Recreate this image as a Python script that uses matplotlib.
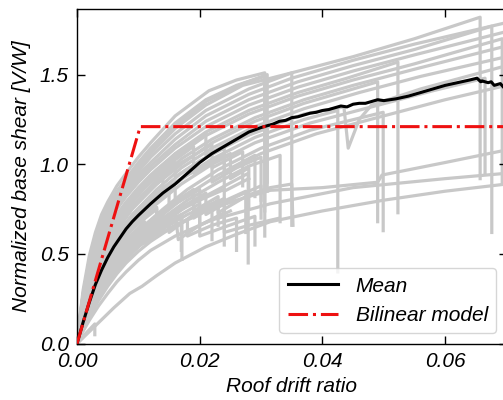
import matplotlib
matplotlib.use("Agg")
import matplotlib.pyplot as plt

plt.rcParams['font.family'] = ['Liberation Sans', 'DejaVu Sans']
plt.rcParams['font.style'] = 'italic'

# ---------------- data ----------------
x_ticks = [0.00, 0.02, 0.04, 0.06]
x_tick_labels = ["0.00", "0.02", "0.04", "0.06"]
y_ticks = [0.0, 0.5, 1.0, 1.5]
y_tick_labels = ["0.0", "0.5", "1.0", "1.5"]

# individual pushover curves (roof drift ratio, normalized base shear)
curves = [
    [(0,0),(0.0005,0.16),(0.001,0.30),(0.002,0.49),(0.003,0.62),(0.004,0.72),(0.005,0.79),(0.0065,0.88),(0.008,0.95),(0.01,1.04),(0.012,1.12),(0.016,1.27),(0.0215,1.41),(0.026,1.47),(0.0306,1.51),(0.0306,0.74)],
    [(0,0),(0.0005,0.15),(0.001,0.28),(0.002,0.46),(0.003,0.59),(0.004,0.69),(0.005,0.76),(0.0065,0.85),(0.008,0.92),(0.01,1.01),(0.012,1.09),(0.016,1.23),(0.021,1.36),(0.026,1.44),(0.0306,1.49),(0.0306,0.60)],
    [(0,0),(0.0005,0.145),(0.001,0.27),(0.002,0.44),(0.003,0.57),(0.004,0.67),(0.005,0.74),(0.0065,0.83),(0.008,0.90),(0.01,0.98),(0.012,1.06),(0.016,1.20),(0.021,1.33),(0.027,1.44),(0.035,1.51),(0.035,0.66)],
    [(0,0),(0.0005,0.14),(0.001,0.26),(0.002,0.43),(0.003,0.55),(0.004,0.65),(0.005,0.72),(0.0065,0.81),(0.008,0.88),(0.01,0.96),(0.012,1.04),(0.016,1.17),(0.021,1.30),(0.028,1.42),(0.035,1.51),(0.045,1.60),(0.055,1.70),(0.0657,1.82),(0.0657,0.92)],
    [(0,0),(0.0005,0.135),(0.001,0.25),(0.002,0.41),(0.003,0.53),(0.004,0.63),(0.005,0.70),(0.0065,0.79),(0.008,0.86),(0.01,0.94),(0.012,1.01),(0.016,1.14),(0.021,1.27),(0.028,1.39),(0.035,1.48),(0.045,1.58),(0.055,1.67),(0.07,1.79)],
    [(0,0),(0.0005,0.13),(0.001,0.24),(0.002,0.40),(0.003,0.52),(0.004,0.61),(0.005,0.68),(0.0065,0.77),(0.008,0.84),(0.01,0.92),(0.012,0.99),(0.016,1.11),(0.021,1.24),(0.028,1.36),(0.036,1.46),(0.045,1.55),(0.055,1.64),(0.0676,1.77),(0.0676,0.62)],
    [(0,0),(0.0005,0.125),(0.001,0.23),(0.002,0.38),(0.003,0.50),(0.004,0.59),(0.005,0.66),(0.0065,0.75),(0.008,0.82),(0.01,0.90),(0.012,0.97),(0.016,1.09),(0.021,1.21),(0.028,1.33),(0.036,1.43),(0.045,1.52),(0.055,1.61),(0.07,1.74)],
    [(0,0),(0.0005,0.12),(0.001,0.22),(0.002,0.36),(0.003,0.47),(0.004,0.56),(0.005,0.63),(0.0065,0.72),(0.008,0.79),(0.01,0.87),(0.012,0.94),(0.016,1.06),(0.021,1.18),(0.028,1.30),(0.036,1.40),(0.044,1.48),(0.0523,1.57),(0.0523,0.73)],
    [(0,0),(0.0005,0.115),(0.001,0.21),(0.002,0.35),(0.003,0.45),(0.004,0.54),(0.005,0.61),(0.0065,0.70),(0.008,0.77),(0.01,0.85),(0.012,0.92),(0.016,1.04),(0.021,1.16),(0.028,1.28),(0.036,1.38),(0.045,1.47),(0.055,1.56),(0.0693,1.70),(0.0693,0.89)],
    [(0,0),(0.0006,0.12),(0.0012,0.22),(0.002,0.32),(0.003,0.42),(0.0045,0.53),(0.006,0.62),(0.0075,0.70),(0.009,0.77),(0.011,0.84),(0.013,0.91),(0.017,1.03),(0.022,1.14),(0.029,1.26),(0.037,1.36),(0.045,1.44),(0.055,1.53),(0.07,1.66)],
    [(0,0),(0.0006,0.115),(0.0012,0.21),(0.002,0.305),(0.003,0.40),(0.0045,0.51),(0.006,0.60),(0.0075,0.68),(0.009,0.75),(0.011,0.82),(0.013,0.89),(0.017,1.00),(0.022,1.12),(0.029,1.24),(0.037,1.34),(0.049,1.46),(0.049,0.68)],
    [(0,0),(0.0006,0.11),(0.0012,0.20),(0.002,0.29),(0.003,0.38),(0.0045,0.49),(0.006,0.58),(0.0075,0.655),(0.009,0.72),(0.011,0.79),(0.013,0.86),(0.017,0.98),(0.022,1.09),(0.029,1.21),(0.037,1.31),(0.046,1.40),(0.056,1.49),(0.07,1.60)],
    [(0,0),(0.0006,0.105),(0.0012,0.19),(0.002,0.275),(0.003,0.36),(0.0045,0.46),(0.006,0.55),(0.0075,0.63),(0.009,0.70),(0.011,0.77),(0.013,0.84),(0.017,0.95),(0.022,1.06),(0.029,1.18),(0.037,1.28),(0.0435,1.32),(0.0442,1.09),(0.046,1.25),(0.048,1.33),(0.056,1.42),(0.07,1.55)],
    [(0,0),(0.0006,0.10),(0.0012,0.18),(0.002,0.265),(0.003,0.35),(0.0045,0.445),(0.006,0.53),(0.0075,0.605),(0.009,0.67),(0.011,0.74),(0.013,0.81),(0.017,0.92),(0.022,1.03),(0.029,1.15),(0.037,1.25),(0.0425,1.30),(0.0425,0.40)],
    [(0,0),(0.0006,0.095),(0.0012,0.17),(0.002,0.25),(0.003,0.33),(0.0045,0.425),(0.006,0.51),(0.0075,0.585),(0.009,0.65),(0.011,0.72),(0.013,0.78),(0.017,0.89),(0.022,1.00),(0.029,1.12),(0.038,1.23),(0.048,1.32),(0.058,1.41),(0.0665,1.48),(0.0665,0.95)],
    [(0,0),(0.0008,0.10),(0.0015,0.18),(0.0025,0.265),(0.0035,0.34),(0.005,0.43),(0.0065,0.50),(0.008,0.565),(0.01,0.63),(0.012,0.69),(0.014,0.75),(0.018,0.86),(0.023,0.97),(0.03,1.09),(0.038,1.19),(0.0499,1.29),(0.0499,0.63)],
    [(0,0),(0.0008,0.095),(0.0015,0.17),(0.0025,0.25),(0.0035,0.32),(0.005,0.41),(0.0065,0.48),(0.008,0.545),(0.01,0.61),(0.012,0.665),(0.014,0.72),(0.018,0.83),(0.023,0.94),(0.03,1.06),(0.039,1.17),(0.05,1.27),(0.06,1.36),(0.07,1.44)],
    [(0,0),(0.0008,0.09),(0.0015,0.16),(0.0025,0.24),(0.0035,0.31),(0.005,0.39),(0.0065,0.46),(0.008,0.52),(0.01,0.58),(0.012,0.64),(0.014,0.70),(0.018,0.80),(0.023,0.90),(0.028,0.99),(0.0331,1.05),(0.0331,0.68)],
    [(0,0),(0.0008,0.085),(0.0015,0.15),(0.0025,0.225),(0.0035,0.29),(0.005,0.37),(0.0065,0.44),(0.008,0.50),(0.01,0.56),(0.012,0.615),(0.014,0.67),(0.018,0.77),(0.023,0.86),(0.0279,0.95),(0.0279,0.45)],
    [(0,0),(0.0008,0.08),(0.0015,0.14),(0.0025,0.21),(0.0035,0.27),(0.005,0.35),(0.0065,0.42),(0.008,0.48),(0.01,0.54),(0.012,0.59),(0.014,0.64),(0.0171,0.71),(0.0171,0.47)],
    [(0,0),(0.001,0.09),(0.002,0.16),(0.0035,0.26),(0.005,0.34),(0.0065,0.41),(0.008,0.47),(0.01,0.54),(0.012,0.60),(0.015,0.68),(0.015,0.62),(0.019,0.72),(0.023,0.80),(0.023,0.73),(0.028,0.83),(0.0315,0.87),(0.035,0.89),(0.0352,0.66)],
    [(0,0),(0.001,0.085),(0.002,0.15),(0.0035,0.24),(0.005,0.32),(0.0065,0.39),(0.008,0.45),(0.01,0.515),(0.012,0.57),(0.016,0.66),(0.021,0.74),(0.026,0.80),(0.0315,0.855),(0.04,0.87),(0.049,0.90),(0.0497,0.94),(0.06,1.01),(0.07,1.08)],
    [(0,0),(0.001,0.07),(0.002,0.13),(0.0035,0.21),(0.005,0.28),(0.0065,0.345),(0.008,0.40),(0.01,0.465),(0.012,0.52),(0.016,0.60),(0.022,0.69),(0.0315,0.78),(0.045,0.87),(0.06,0.92),(0.07,0.95)],
    [(0,0),(0.0015,0.05),(0.003,0.10),(0.0045,0.15),(0.006,0.20),(0.0086,0.28),(0.0106,0.32),(0.013,0.38),(0.016,0.45),(0.021,0.54),(0.026,0.61),(0.0315,0.68),(0.04,0.74),(0.05,0.80),(0.06,0.85),(0.07,0.89)],
    [(0,0),(0.001,0.095),(0.002,0.17),(0.0035,0.28),(0.005,0.36),(0.0065,0.44),(0.008,0.50),(0.01,0.57),(0.012,0.63),(0.016,0.73),(0.02,0.80),(0.024,0.86),(0.024,0.62),(0.028,0.66),(0.033,0.70)],
    [(0,0),(0.0009,0.10),(0.0018,0.18),(0.003,0.29),(0.0045,0.38),(0.006,0.46),(0.008,0.55),(0.01,0.62),(0.012,0.68),(0.012,0.60),(0.016,0.70),(0.02,0.78),(0.02,0.66),(0.025,0.74)],
    [(0,0),(0.0009,0.11),(0.0018,0.20),(0.003,0.31),(0.0045,0.41),(0.006,0.49),(0.008,0.58),(0.011,0.68),(0.011,0.56),(0.014,0.64),(0.018,0.72),(0.022,0.78),(0.022,0.58)],
    [(0,0),(0.0008,0.11),(0.0015,0.20),(0.0025,0.31),(0.004,0.42),(0.0055,0.50),(0.007,0.57),(0.01,0.67),(0.013,0.75),(0.013,0.66),(0.017,0.76),(0.021,0.84),(0.021,0.72),(0.026,0.82),(0.03,0.88),(0.03,0.70)],
    [(0,0),(0.0009,0.105),(0.0018,0.19),(0.003,0.29),(0.0045,0.39),(0.006,0.47),(0.0075,0.54),(0.011,0.66),(0.015,0.76),(0.019,0.84),(0.019,0.70),(0.023,0.78),(0.0275,0.85),(0.0275,0.62)],
    [(0,0),(0.001,0.10),(0.002,0.18),(0.0035,0.29),(0.005,0.37),(0.0065,0.45),(0.008,0.51),(0.01,0.58),(0.012,0.64),(0.016,0.74),(0.0165,0.58),(0.02,0.66),(0.024,0.73),(0.024,0.55)],
    [(0,0),(0.0015,0.06),(0.0029,0.11),(0.0029,0.05)],
    [(0,0),(0.0008,0.13),(0.0015,0.24),(0.0025,0.36),(0.004,0.50),(0.0055,0.60),(0.007,0.68),(0.01,0.80),(0.014,0.92),(0.014,0.84),(0.018,0.94),(0.022,1.02),(0.022,0.90),(0.026,0.98),(0.03,1.04),(0.03,0.80)],
    [(0,0),(0.0008,0.14),(0.0015,0.26),(0.0025,0.39),(0.004,0.53),(0.0055,0.64),(0.007,0.72),(0.009,0.81),(0.011,0.88),(0.015,1.00),(0.019,1.10),(0.019,0.95),(0.024,1.05),(0.024,0.85),(0.028,0.92)],
    [(0,0),(0.001,0.12),(0.002,0.22),(0.0035,0.35),(0.005,0.45),(0.007,0.56),(0.009,0.64),(0.013,0.76),(0.013,0.64),(0.017,0.72),(0.017,0.52)],
    [(0,0),(0.0008,0.12),(0.0015,0.22),(0.0025,0.33),(0.004,0.46),(0.006,0.57),(0.008,0.66),(0.012,0.80),(0.016,0.90),(0.02,0.98),(0.025,1.06),(0.025,0.92),(0.028,0.98),(0.028,0.75)],
    [(0,0),(0.001,0.11),(0.002,0.20),(0.0035,0.31),(0.005,0.40),(0.007,0.50),(0.009,0.58),(0.011,0.64),(0.014,0.71),(0.014,0.62),(0.018,0.69),(0.018,0.60),(0.022,0.66),(0.026,0.70),(0.026,0.52)],
    [(0,0),(0.001,0.13),(0.002,0.24),(0.0035,0.37),(0.005,0.47),(0.007,0.58),(0.009,0.67),(0.012,0.77),(0.016,0.87),(0.016,0.78),(0.02,0.86),(0.02,0.74),(0.024,0.81),(0.024,0.68)],
    [(0,0),(0.0006,0.13),(0.0012,0.24),(0.002,0.35),(0.003,0.46),(0.0045,0.58),(0.006,0.67),(0.0075,0.75),(0.009,0.82),(0.011,0.90),(0.013,0.97),(0.017,1.08),(0.021,1.17),(0.021,1.05),(0.026,1.14),(0.031,1.20),(0.031,0.90)],
    [(0,0),(0.0006,0.125),(0.0012,0.23),(0.002,0.335),(0.003,0.44),(0.0045,0.555),(0.006,0.645),(0.0075,0.72),(0.009,0.79),(0.011,0.865),(0.013,0.93),(0.016,1.01),(0.016,0.93),(0.02,1.02),(0.024,1.09),(0.024,0.96),(0.029,1.05),(0.029,0.82)],
    [(0,0),(0.0008,0.12),(0.0015,0.21),(0.0025,0.31),(0.004,0.43),(0.0055,0.52),(0.007,0.60),(0.009,0.69),(0.012,0.79),(0.015,0.87),(0.015,0.77),(0.019,0.86),(0.019,0.74),(0.023,0.82),(0.023,0.66)],
    [(0,0),(0.0005,0.15),(0.001,0.275),(0.002,0.45),(0.003,0.58),(0.004,0.68),(0.005,0.75),(0.0065,0.84),(0.008,0.91),(0.01,0.99),(0.012,1.07),(0.016,1.21),(0.021,1.35),(0.027,1.45),(0.031,1.50),(0.031,0.85)],
    [(0,0),(0.0009,0.10),(0.0018,0.185),(0.003,0.28),(0.0045,0.37),(0.006,0.45),(0.008,0.53),(0.01,0.60),(0.013,0.68),(0.013,0.60),(0.016,0.66),(0.02,0.72),(0.02,0.60),(0.024,0.65),(0.029,0.71),(0.029,0.55)],
    [(0,0),(0.0006,0.12),(0.0012,0.215),(0.002,0.31),(0.003,0.41),(0.0045,0.52),(0.006,0.61),(0.0075,0.69),(0.009,0.76),(0.011,0.83),(0.013,0.90),(0.017,1.01),(0.022,1.11),(0.022,0.98),(0.027,1.07),(0.027,0.88)],
]

mean_x = [0, 0.001, 0.002, 0.003, 0.004, 0.005, 0.006, 0.007, 0.008, 0.009, 0.010,
          0.012, 0.014, 0.016, 0.018, 0.020, 0.022, 0.024, 0.026, 0.028, 0.030,
          0.031, 0.032, 0.033, 0.034, 0.035, 0.036, 0.037, 0.038, 0.039, 0.040,
          0.041, 0.042, 0.043, 0.044, 0.045, 0.046, 0.047, 0.048, 0.049, 0.050,
          0.051, 0.052, 0.054, 0.056, 0.058, 0.060, 0.062, 0.064, 0.0652, 0.0658,
          0.066, 0.067, 0.0675, 0.068, 0.069, 0.0695, 0.070]
mean_y = [0, 0.12, 0.23, 0.33, 0.41, 0.48, 0.54, 0.59, 0.64, 0.68, 0.715,
          0.78, 0.84, 0.89, 0.95, 1.01, 1.06, 1.10, 1.14, 1.18, 1.205,
          1.215, 1.225, 1.24, 1.245, 1.26, 1.265, 1.275, 1.285, 1.29, 1.30,
          1.305, 1.315, 1.325, 1.32, 1.335, 1.34, 1.34, 1.35, 1.36, 1.355,
          1.36, 1.365, 1.38, 1.40, 1.42, 1.44, 1.455, 1.47, 1.48, 1.46,
          1.465, 1.455, 1.46, 1.44, 1.45, 1.43, 1.42]

bilinear_x = [0.0, 0.0103, 0.07]
bilinear_y = [0.0, 1.21, 1.21]

# ---------------- plot ----------------
fig = plt.figure(figsize=(5.03, 4.0), dpi=100)
ax = fig.add_axes([0.1531, 0.1408, 0.8539, 0.8368])

for c in curves:
    xs = [p[0] for p in c]
    ys = [p[1] for p in c]
    ax.plot(xs, ys, color='#c8c8c8', lw=2.3, zorder=1)

ax.plot(mean_x, mean_y, color='black', lw=2.2, label='Mean', zorder=3)
ax.plot(bilinear_x, bilinear_y, color='#ee1111', lw=2.2, ls='-.', label='Bilinear model', zorder=4)

ax.set_xlim(0, 0.07)
ax.set_ylim(0, 1.866)
ax.set_xticks(x_ticks)
ax.set_xticklabels(x_tick_labels)
ax.set_yticks(y_ticks)
ax.set_yticklabels(y_tick_labels)
ax.tick_params(direction='in', top=True, right=True, length=5.5, width=1.0,
               labelsize=15, pad=6)
for s in ax.spines.values():
    s.set_linewidth(1.0)

ax.set_xlabel('Roof drift ratio', fontsize=15, fontstyle='italic', labelpad=4)
ax.set_ylabel('Normalized base shear [V/W]', fontsize=15, fontstyle='italic', labelpad=6)

leg = ax.legend(loc='lower right', handlelength=2.4, handletextpad=0.85,
                prop={'style': 'italic', 'size': 15})
leg.set_zorder(10)

fig.savefig('out.png', dpi=100)
